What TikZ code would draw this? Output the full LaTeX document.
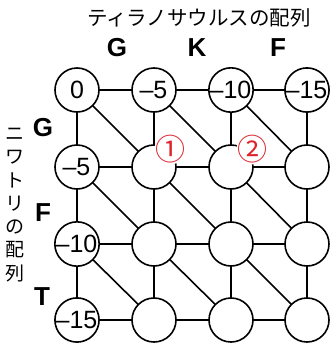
\documentclass[tikz,border=0pt]{standalone}
\usepackage{fontspec}
\setmainfont{Liberation Sans}
\newfontfamily\cjk{Noto Sans CJK JP}
\definecolor{markred}{RGB}{222,35,45}
\begin{document}
\begin{tikzpicture}[x=1pt,y=-1pt,
  vtx/.style={circle,draw=black,line width=1.6pt,fill=white,minimum size=44pt,inner sep=0pt,font=\fontsize{25}{25}\selectfont},
  edge/.style={line width=1.6pt,black},
  seqlbl/.style={font=\bfseries\fontsize{26}{26}\selectfont},
  redmark/.style={inner sep=0pt,text=markred,font=\cjk\fontsize{30}{30}\selectfont}]
\useasboundingbox (0,0) rectangle (331,343);
\def\xs{{77,154,231,307}}
\def\ys{{90,167,244,320}}
% vertices
\foreach \r in {0,1,2,3}{
  \foreach \c in {0,1,2,3}{
    \pgfmathsetmacro{\xx}{\xs[\c]}
    \pgfmathsetmacro{\yy}{\ys[\r]}
    \coordinate (p\r\c) at (\xx,\yy);
  }
}
% edges
\foreach \r in {0,1,2,3}{
  \foreach \c/\d in {0/1,1/2,2/3}{
    \draw[edge] (p\r\c) -- (p\r\d);
    \draw[edge] (p\c\r) -- (p\d\r);
  }
}
\foreach \r/\s in {0/1,1/2,2/3}{
  \foreach \c/\d in {0/1,1/2,2/3}{
    \draw[edge] (p\r\c) -- (p\s\d);
  }
}
% circles
\node[vtx] (n00) at (p00) {0};
\node[vtx] (n01) at (p01) {\kern-1pt–5};
\node[vtx] (n02) at (p02) {\kern-1pt–10};
\node[vtx] (n03) at (p03) {\kern-1pt–15};
\node[vtx] (n10) at (p10) {\kern-1pt–5};
\node[vtx] (n20) at (p20) {\kern-1pt–10};
\node[vtx] (n30) at (p30) {\kern-1pt–15};
\foreach \r in {1,2,3}{
  \foreach \c in {1,2,3}{
    \node[vtx] (n\r\c) at (p\r\c) {};
  }
}
% circled marks
\fill[white] (170,149) circle (15.5pt);
\fill[white] (252,149) circle (15.5pt);
\node[redmark] (m1) at (170,149) {①};
\node[redmark] (m2) at (252,149) {②};
% labels
\node[font=\cjk\fontsize{20.5}{20.5}\selectfont] (top) at (199,18) {ティラノサウルスの配列};
\node[seqlbl] (tg) at (117,48) {G};
\node[seqlbl] (tk) at (197,48) {K};
\node[seqlbl] (tf) at (278,48) {F};
\node[seqlbl] (lg) at (43,128) {G};
\node[seqlbl] (lf) at (43,213) {F};
\node[seqlbl] (lt) at (42,297) {T};
\node[font=\cjk\fontsize{19}{23.3}\selectfont,align=center,inner sep=0pt] (side) at (15,205) {ニ\\ワ\\ト\\リ\\の\\配\\列};
\end{tikzpicture}
\end{document}
